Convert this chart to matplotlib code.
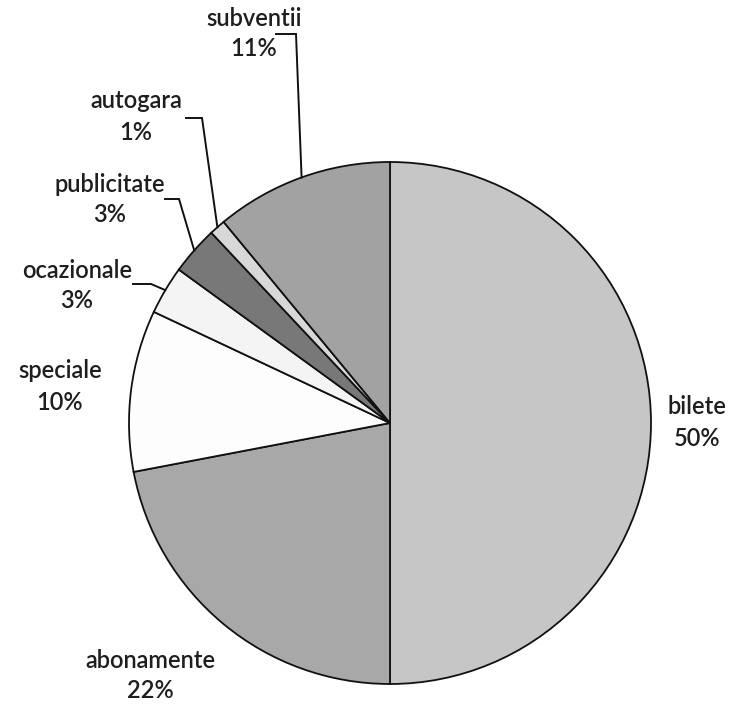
import numpy as np
import matplotlib
matplotlib.use("Agg")
import matplotlib.pyplot as plt

categories = ["bilete", "abonamente", "speciale", "ocazionale", "publicitate", "autogara", "subventii"]
values = [50, 22, 10, 3, 3, 1, 11]
colors = ["#c6c6c6", "#a8a8a8", "#fdfdfd", "#f4f4f4", "#787878", "#d8d8d8", "#a2a2a2"]

W, H = 729, 704
CX, CY, R = 390, 423, 261

plt.rcParams['font.family'] = ['Lato', 'DejaVu Sans']

fig = plt.figure(figsize=(W / 100, H / 100), dpi=100)
ax = fig.add_axes([(CX - R) / W, (H - CY - R) / H, 2 * R / W, 2 * R / H])
wedges, _ = ax.pie(values, colors=colors, startangle=90, counterclock=False, radius=1,
                   wedgeprops=dict(edgecolor="#111111", linewidth=1.3))
ax.set_xlim(-1, 1)
ax.set_ylim(-1, 1)
ax.set_aspect("equal")
ax.axis("off")

def d(px, py):
    return (px - CX) / R, (CY - py) / R

# label positions (pixel coords in reference image)
label_pos = {
    "subventii": (254, 18),
    "autogara": (136, 101),
    "publicitate": (110, 184),
    "ocazionale": (77, 270),
    "speciale": (60, 371),
    "bilete": (697, 407),
    "abonamente": (150, 660),
}
pct_offset = 31
FS = 17

total = sum(values)
for w, cat, v in zip(wedges, categories, values):
    px, py = label_pos[cat]
    x, y = d(px, py)
    x2, y2 = d(px, py + pct_offset)
    ax.text(x, y, cat, ha="center", va="center", fontsize=FS, fontweight="semibold",
            color="#1e1e1e", clip_on=False)
    ax.text(x2, y2, f"{round(100 * v / total)}%", ha="center", va="center", fontsize=FS,
            fontweight="semibold", color="#1e1e1e", clip_on=False)

# leader lines: (start of horizontal, corner) in pixel coords
leaders = {
    "subventii": ((276, 34), (296, 34)),
    "autogara": ((186, 118), (202, 118)),
    "publicitate": ((165, 199), (179, 199)),
    "ocazionale": ((133, 284), (151, 284)),
}
for w, cat in zip(wedges, categories):
    if cat in leaders:
        (sx, sy), (kx, ky) = leaders[cat]
        mid = np.deg2rad((w.theta1 + w.theta2) / 2)
        ex, ey = np.cos(mid), np.sin(mid)
        p0 = d(sx, sy)
        p1 = d(kx, ky)
        ax.plot([p0[0], p1[0], ex], [p0[1], p1[1], ey], color="#111111", lw=1.4,
                clip_on=False, solid_joinstyle="miter")

fig.savefig("out.png", dpi=100, facecolor="white")
